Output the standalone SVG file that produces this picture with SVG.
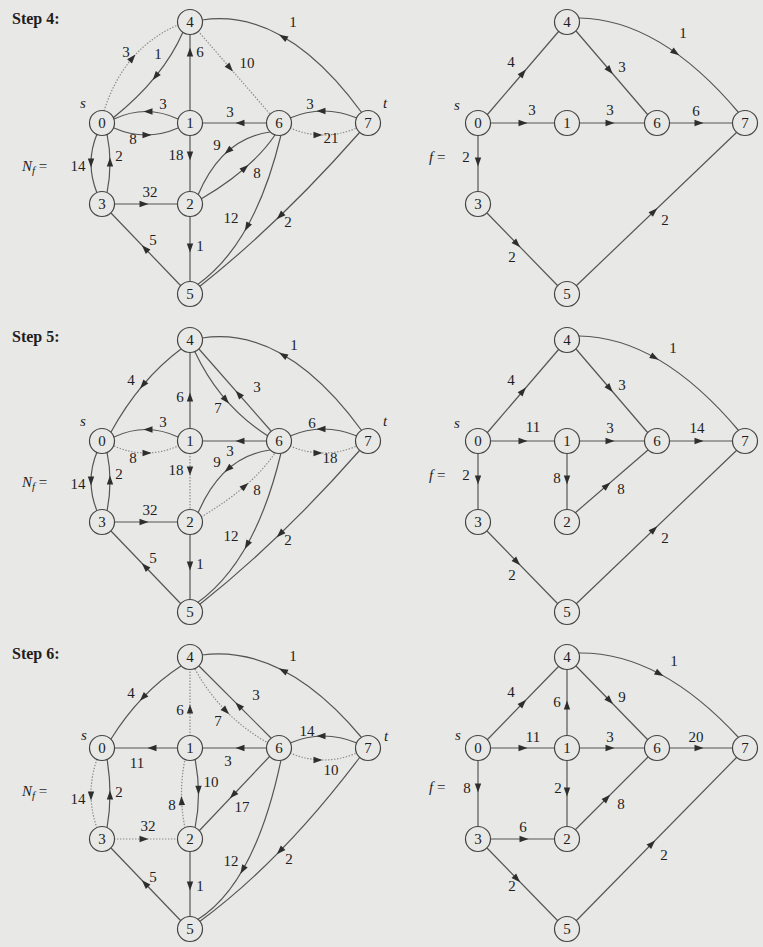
<svg xmlns="http://www.w3.org/2000/svg" xmlns:xlink="http://www.w3.org/1999/xlink" width="763" height="947" viewBox="0 0 763 947">
<style>
.e{fill:none;stroke:#555;stroke-width:1.2}
.d{fill:none;stroke:#8a8a8a;stroke-width:1.2;stroke-dasharray:1.4 1.6}
.n circle{fill:#e8e8e6;stroke:#444;stroke-width:1.2}
.n text{font-family:"Liberation Serif",serif;font-size:15px;fill:#1e1e1e;text-anchor:middle}
.l{font-family:"Liberation Serif",serif;font-size:15px;fill:#1e1e1e;text-anchor:middle}
.i{font-family:"Liberation Serif",serif;font-size:15px;fill:#1e1e1e;font-style:italic}
.h{font-family:"Liberation Serif",serif;font-size:16px;font-weight:bold;fill:#1e1e1e}
</style>
<defs>
<path id="a" d="M4.5,0 L-4.5,-3.2 L-4.5,3.2 Z" fill="#2e2e2e"/>
</defs>
<rect width="763" height="947" fill="#e8e8e6"/>

<!-- ================= STEP 4 ================= -->
<g id="step4">
<text class="h" x="12" y="24">Step 4:</text>
<text class="i" x="80" y="108">s</text>
<text class="i" x="383" y="108">t</text>
<text class="i" x="22" y="171">N<tspan font-size="11" dy="3">f</tspan><tspan font-style="normal" dy="-3"> =</tspan></text>
<text class="i" x="429" y="162">f<tspan font-style="normal"> =</tspan></text>
<text class="i" x="454" y="110">s</text>

<g id="s4L-edges">
<path class="d" d="M104,111 Q124,48 178,25"/><use xlink:href="#a" transform="translate(132.5,58) rotate(-49)"/><text class="l" x="126" y="57">3</text>
<path class="e" d="M183,32 Q163,78 113,118"/><use xlink:href="#a" transform="translate(155.5,76.5) rotate(129)"/><text class="l" x="158" y="59">1</text>
<path class="e" d="M190,111 V34"/><use xlink:href="#a" transform="translate(190,52) rotate(-90)"/><text class="l" x="200" y="57">6</text>
<path class="d" d="M198,31 L270,114"/><use xlink:href="#a" transform="translate(230,68) rotate(49)"/><text class="l" x="247" y="68">10</text>
<path class="e" d="M362,113 Q285,7.5 202,20"/><use xlink:href="#a" transform="translate(283,37) rotate(210)"/><text class="l" x="293" y="27">1</text>
<path class="e" d="M178,119 Q146,104 114,119"/><use xlink:href="#a" transform="translate(148,111.5) rotate(180)"/><text class="l" x="163" y="109">3</text>
<path class="e" d="M114,128 Q146,142 178,128"/><use xlink:href="#a" transform="translate(147,135)"/><text class="l" x="133" y="144">8</text>
<path class="e" d="M267,123 H202"/><use xlink:href="#a" transform="translate(240,123) rotate(180)"/><text class="l" x="230" y="117">3</text>
<path class="e" d="M357,118 Q323,104 290,118"/><use xlink:href="#a" transform="translate(321,111) rotate(180)"/><text class="l" x="310" y="109">3</text>
<path class="d" d="M290,128 Q323,142 357,128"/><use xlink:href="#a" transform="translate(318,135)"/><text class="l" x="331" y="143">21</text>
<path class="e" d="M190,135 V192"/><use xlink:href="#a" transform="translate(190,156) rotate(90)"/><text class="l" x="176" y="160">18</text>
<path class="e" d="M97,134 Q85,163 97,193"/><use xlink:href="#a" transform="translate(91,163) rotate(90)"/><text class="l" x="78" y="171">14</text>
<path class="e" d="M107,193 Q113,163 107,134"/><use xlink:href="#a" transform="translate(110,162) rotate(-90)"/><text class="l" x="119" y="161">2</text>
<path class="e" d="M114,204 H178"/><use xlink:href="#a" transform="translate(144,204)"/><text class="l" x="150" y="197">32</text>
<path class="e" d="M270,132 Q222,138.5 198,195"/><use xlink:href="#a" transform="translate(228,151) rotate(139)"/><text class="l" x="217" y="150">9</text>
<path class="e" d="M201,199 Q252,169 275,135"/><use xlink:href="#a" transform="translate(245,168) rotate(-41)"/><text class="l" x="257" y="178">8</text>
<path class="e" d="M281,135 Q255,244 197,285"/><use xlink:href="#a" transform="translate(247,227) rotate(119)"/><text class="l" x="231" y="223">12</text>
<path class="e" d="M360,132 Q280,223 199,287"/><use xlink:href="#a" transform="translate(280,216) rotate(136)"/><text class="l" x="288" y="227">2</text>
<path class="e" d="M190,216 V282"/><use xlink:href="#a" transform="translate(190,248) rotate(90)"/><text class="l" x="200" y="251">1</text>
<path class="e" d="M181,286 L111,213"/><use xlink:href="#a" transform="translate(145,248.5) rotate(-134)"/><text class="l" x="153" y="245">5</text>
</g>
<g id="s4L-n4" class="n"><circle cx="190" cy="22" r="12.5"/><text x="190" y="27">4</text></g>
<g id="s4L-n0" class="n"><circle cx="102" cy="123" r="12.5"/><text x="102" y="128">0</text></g>
<g id="s4L-n1" class="n"><circle cx="190" cy="123" r="12.5"/><text x="190" y="128">1</text></g>
<g id="s4L-n6" class="n"><circle cx="279" cy="123" r="12.5"/><text x="279" y="128">6</text></g>
<g id="s4L-n7" class="n"><circle cx="368" cy="123" r="12.5"/><text x="368" y="128">7</text></g>
<g id="s4L-n3" class="n"><circle cx="102" cy="204" r="12.5"/><text x="102" y="209">3</text></g>
<g id="s4L-n2" class="n"><circle cx="190" cy="204" r="12.5"/><text x="190" y="209">2</text></g>
<g id="s4L-n5" class="n"><circle cx="190" cy="294" r="12.5"/><text x="190" y="299">5</text></g>

<g id="s4R-edges">
<path class="e" d="M487,115 L559,31"/><use xlink:href="#a" transform="translate(523,73) rotate(-49.4)"/><text class="l" x="511" y="67">4</text>
<path class="e" d="M576,31 L648,115"/><use xlink:href="#a" transform="translate(609.8,70.5) rotate(49.4)"/><text class="l" x="622" y="72">3</text>
<path class="e" d="M579,18 Q660,19 739,113"/><use xlink:href="#a" transform="translate(675.5,52.7) rotate(35)"/><text class="l" x="683" y="38">1</text>
<path class="e" d="M490,123 H555"/><use xlink:href="#a" transform="translate(523,123)"/><text class="l" x="532" y="115">3</text>
<path class="e" d="M579,123 H645"/><use xlink:href="#a" transform="translate(610,123)"/><text class="l" x="610" y="115">3</text>
<path class="e" d="M669,123 H733"/><use xlink:href="#a" transform="translate(699,123)"/><text class="l" x="696" y="116">6</text>
<path class="e" d="M478,135 V192"/><use xlink:href="#a" transform="translate(478,162) rotate(90)"/><text class="l" x="466" y="162">2</text>
<path class="e" d="M487,213 L558,286"/><use xlink:href="#a" transform="translate(517,244) rotate(45.8)"/><text class="l" x="512" y="262">2</text>
<path class="e" d="M576,286 L737,132"/><use xlink:href="#a" transform="translate(654,211.4) rotate(-43.7)"/><text class="l" x="665" y="225">2</text>
</g>
<g id="s4R-n4" class="n"><circle cx="567" cy="22" r="12.5"/><text x="567" y="27">4</text></g>
<g id="s4R-n0" class="n"><circle cx="478" cy="123" r="12.5"/><text x="478" y="128">0</text></g>
<g id="s4R-n1" class="n"><circle cx="567" cy="123" r="12.5"/><text x="567" y="128">1</text></g>
<g id="s4R-n6" class="n"><circle cx="657" cy="123" r="12.5"/><text x="657" y="128">6</text></g>
<g id="s4R-n7" class="n"><circle cx="745" cy="123" r="12.5"/><text x="745" y="128">7</text></g>
<g id="s4R-n3" class="n"><circle cx="478" cy="204" r="12.5"/><text x="478" y="209">3</text></g>
<g id="s4R-n5" class="n"><circle cx="567" cy="294" r="12.5"/><text x="567" y="299">5</text></g>
</g>

<!-- ================= STEP 5 ================= -->
<g id="step5" transform="translate(0,318)">
<text class="h" x="12" y="24">Step 5:</text>
<text class="i" x="80" y="108">s</text>
<text class="i" x="383" y="108">t</text>
<text class="i" x="22" y="169">N<tspan font-size="11" dy="3">f</tspan><tspan font-style="normal" dy="-3"> =</tspan></text>
<text class="i" x="429" y="162">f<tspan font-style="normal"> =</tspan></text>
<text class="i" x="454" y="110">s</text>

<g id="s5L-edges">
<path class="e" d="M181,31 Q140,61.5 111,114"/><use xlink:href="#a" transform="translate(143,67) rotate(130)"/><text class="l" x="131" y="67">4</text>
<path class="e" d="M190,111 V34"/><use xlink:href="#a" transform="translate(190,79) rotate(-90)"/><text class="l" x="180" y="84">6</text>
<path class="e" d="M195,34 Q220.5,88 268,118"/><use xlink:href="#a" transform="translate(226,82) rotate(49)"/><text class="l" x="218" y="95">7</text>
<path class="e" d="M271,113 L199,31"/><use xlink:href="#a" transform="translate(238.6,76.1) rotate(228.7)"/><text class="l" x="257" y="74">3</text>
<path class="e" d="M362,113 Q285,7.5 202,20"/><use xlink:href="#a" transform="translate(283,37) rotate(210)"/><text class="l" x="294" y="32">1</text>
<path class="e" d="M178,119 Q146,104 114,119"/><use xlink:href="#a" transform="translate(148,111.5) rotate(180)"/><text class="l" x="163" y="109">3</text>
<path class="d" d="M114,128 Q146,142 178,128"/><use xlink:href="#a" transform="translate(147,135)"/><text class="l" x="133" y="145">8</text>
<path class="e" d="M267,123 H202"/><use xlink:href="#a" transform="translate(240,123) rotate(180)"/><text class="l" x="230" y="138">3</text>
<path class="e" d="M357,118 Q323,104 290,118"/><use xlink:href="#a" transform="translate(321,111) rotate(180)"/><text class="l" x="312" y="110">6</text>
<path class="d" d="M290,128 Q323,142 357,128"/><use xlink:href="#a" transform="translate(318,135)"/><text class="l" x="330" y="145">18</text>
<path class="d" d="M190,135 V192"/><use xlink:href="#a" transform="translate(190,153) rotate(90)"/><text class="l" x="176" y="157">18</text>
<path class="e" d="M270,132 Q222,138.5 198,195"/><use xlink:href="#a" transform="translate(228,151) rotate(139)"/><text class="l" x="217" y="149">9</text>
<path class="d" d="M201,199 Q252,169 275,135"/><use xlink:href="#a" transform="translate(245,168) rotate(-41)"/><text class="l" x="257" y="177">8</text>
<path class="e" d="M97,134 Q85,163 97,193"/><use xlink:href="#a" transform="translate(91,163) rotate(90)"/><text class="l" x="78" y="171">14</text>
<path class="e" d="M107,193 Q113,163 107,134"/><use xlink:href="#a" transform="translate(110,162) rotate(-90)"/><text class="l" x="119" y="161">2</text>
<path class="e" d="M114,204 H178"/><use xlink:href="#a" transform="translate(144,204)"/><text class="l" x="150" y="197">32</text>
<path class="e" d="M281,135 Q255,244 197,285"/><use xlink:href="#a" transform="translate(247,227) rotate(119)"/><text class="l" x="231" y="223">12</text>
<path class="e" d="M360,132 Q280,223 199,287"/><use xlink:href="#a" transform="translate(280,216) rotate(136)"/><text class="l" x="288" y="227">2</text>
<path class="e" d="M190,216 V282"/><use xlink:href="#a" transform="translate(190,248) rotate(90)"/><text class="l" x="200" y="251">1</text>
<path class="e" d="M181,286 L111,213"/><use xlink:href="#a" transform="translate(145,248.5) rotate(-134)"/><text class="l" x="153" y="245">5</text>
</g>
<g id="s5L-n4" class="n"><circle cx="190" cy="22" r="12.5"/><text x="190" y="27">4</text></g>
<g id="s5L-n0" class="n"><circle cx="102" cy="123" r="12.5"/><text x="102" y="128">0</text></g>
<g id="s5L-n1" class="n"><circle cx="190" cy="123" r="12.5"/><text x="190" y="128">1</text></g>
<g id="s5L-n6" class="n"><circle cx="279" cy="123" r="12.5"/><text x="279" y="128">6</text></g>
<g id="s5L-n7" class="n"><circle cx="368" cy="123" r="12.5"/><text x="368" y="128">7</text></g>
<g id="s5L-n3" class="n"><circle cx="102" cy="204" r="12.5"/><text x="102" y="209">3</text></g>
<g id="s5L-n2" class="n"><circle cx="190" cy="204" r="12.5"/><text x="190" y="209">2</text></g>
<g id="s5L-n5" class="n"><circle cx="190" cy="294" r="12.5"/><text x="190" y="299">5</text></g>

<g id="s5R-edges">
<path class="e" d="M487,115 L559,31"/><use xlink:href="#a" transform="translate(523,73) rotate(-49.4)"/><text class="l" x="511" y="67">4</text>
<path class="e" d="M576,31 L648,115"/><use xlink:href="#a" transform="translate(609.8,70.5) rotate(49.4)"/><text class="l" x="622" y="72">3</text>
<path class="e" d="M579,18 Q660,19 739,113"/><use xlink:href="#a" transform="translate(654.7,39.5) rotate(29)"/><text class="l" x="673" y="35">1</text>
<path class="e" d="M490,123 H555"/><use xlink:href="#a" transform="translate(523,123)"/><text class="l" x="533" y="114">11</text>
<path class="e" d="M579,123 H645"/><use xlink:href="#a" transform="translate(610,123)"/><text class="l" x="610" y="115">3</text>
<path class="e" d="M669,123 H733"/><use xlink:href="#a" transform="translate(699,123)"/><text class="l" x="697" y="115">14</text>
<path class="e" d="M478,135 V192"/><use xlink:href="#a" transform="translate(478,162) rotate(90)"/><text class="l" x="466" y="162">2</text>
<path class="e" d="M567,135 V192"/><use xlink:href="#a" transform="translate(567,162) rotate(90)"/><text class="l" x="557" y="165">8</text>
<path class="e" d="M575,195 L648,132"/><use xlink:href="#a" transform="translate(607,167.4) rotate(-40.8)"/><text class="l" x="621" y="176">8</text>
<path class="e" d="M487,213 L558,286"/><use xlink:href="#a" transform="translate(517,244) rotate(45.8)"/><text class="l" x="512" y="262">2</text>
<path class="e" d="M576,286 L737,132"/><use xlink:href="#a" transform="translate(654,211.4) rotate(-43.7)"/><text class="l" x="665" y="225">2</text>
</g>
<g id="s5R-n4" class="n"><circle cx="567" cy="22" r="12.5"/><text x="567" y="27">4</text></g>
<g id="s5R-n0" class="n"><circle cx="478" cy="123" r="12.5"/><text x="478" y="128">0</text></g>
<g id="s5R-n1" class="n"><circle cx="567" cy="123" r="12.5"/><text x="567" y="128">1</text></g>
<g id="s5R-n6" class="n"><circle cx="657" cy="123" r="12.5"/><text x="657" y="128">6</text></g>
<g id="s5R-n7" class="n"><circle cx="745" cy="123" r="12.5"/><text x="745" y="128">7</text></g>
<g id="s5R-n3" class="n"><circle cx="478" cy="204" r="12.5"/><text x="478" y="209">3</text></g>
<g id="s5R-n2" class="n"><circle cx="567" cy="204" r="12.5"/><text x="567" y="209">2</text></g>
<g id="s5R-n5" class="n"><circle cx="567" cy="294" r="12.5"/><text x="567" y="299">5</text></g>
</g>

<!-- ================= STEP 6 ================= -->
<g id="step6" transform="translate(0,635)">
<text class="h" x="12" y="24">Step 6:</text>
<text class="i" x="81" y="105">s</text>
<text class="i" x="384" y="106">t</text>
<text class="i" x="22" y="161">N<tspan font-size="11" dy="3">f</tspan><tspan font-style="normal" dy="-3"> =</tspan></text>
<text class="i" x="429" y="157">f<tspan font-style="normal"> =</tspan></text>
<text class="i" x="455" y="105">s</text>

<g id="s6L-edges">
<path class="e" d="M181,31 Q140,57.5 111,104"/><use xlink:href="#a" transform="translate(143,62.5) rotate(134)"/><text class="l" x="131" y="63">4</text>
<path class="d" d="M190,101 V34"/><use xlink:href="#a" transform="translate(190,74) rotate(-90)"/><text class="l" x="180" y="80">6</text>
<path class="d" d="M195,34 Q220.5,81 268,108"/><use xlink:href="#a" transform="translate(226,76) rotate(45.4)"/><text class="l" x="218" y="91">7</text>
<path class="e" d="M271,103 L199,31"/><use xlink:href="#a" transform="translate(238.6,70.6) rotate(225)"/><text class="l" x="256" y="65">3</text>
<path class="e" d="M362,103 Q284,9.5 202,20"/><use xlink:href="#a" transform="translate(283,35.5) rotate(207)"/><text class="l" x="293" y="26">1</text>
<path class="e" d="M178,113 H114"/><use xlink:href="#a" transform="translate(152,113) rotate(180)"/><text class="l" x="137" y="133">11</text>
<path class="e" d="M267,113 H202"/><use xlink:href="#a" transform="translate(240,113) rotate(180)"/><text class="l" x="228" y="131">3</text>
<path class="e" d="M357,108 Q323,94 290,108"/><use xlink:href="#a" transform="translate(321,101) rotate(180)"/><text class="l" x="307" y="101">14</text>
<path class="d" d="M290,118 Q323,132 357,118"/><use xlink:href="#a" transform="translate(318,125)"/><text class="l" x="331" y="140">10</text>
<path class="e" d="M195,124 Q202,159 195,193"/><use xlink:href="#a" transform="translate(198.5,155.3) rotate(90)"/><text class="l" x="211" y="152">10</text>
<path class="d" d="M185,193 Q178,159 185,124"/><use xlink:href="#a" transform="translate(181.6,165.6) rotate(-93)"/><text class="l" x="172" y="175">8</text>
<path class="d" d="M97,124 Q85,159 97,193"/><use xlink:href="#a" transform="translate(91,161) rotate(90)"/><text class="l" x="78" y="169">14</text>
<path class="e" d="M107,193 Q113,159 107,124"/><use xlink:href="#a" transform="translate(110,160) rotate(-90)"/><text class="l" x="119" y="162">2</text>
<path class="d" d="M114,204 H178"/><use xlink:href="#a" transform="translate(144,204)"/><text class="l" x="148" y="196">32</text>
<path class="e" d="M270,121 L199,196"/><use xlink:href="#a" transform="translate(233,160.1) rotate(133.4)"/><text class="l" x="242" y="177">17</text>
<path class="e" d="M281,125 Q255,249 197,285"/><use xlink:href="#a" transform="translate(242.7,234.8) rotate(120)"/><text class="l" x="231" y="231">12</text>
<path class="e" d="M360,122 Q280.5,227.5 199,287"/><use xlink:href="#a" transform="translate(280,216) rotate(134)"/><text class="l" x="289" y="229">2</text>
<path class="e" d="M190,216 V282"/><use xlink:href="#a" transform="translate(190,251) rotate(90)"/><text class="l" x="200" y="256">1</text>
<path class="e" d="M181,286 L111,213"/><use xlink:href="#a" transform="translate(145,248.5) rotate(-134)"/><text class="l" x="153" y="247">5</text>
</g>
<g id="s6L-n4" class="n"><circle cx="190" cy="22" r="12.5"/><text x="190" y="27">4</text></g>
<g id="s6L-n0" class="n"><circle cx="102" cy="113" r="12.5"/><text x="102" y="118">0</text></g>
<g id="s6L-n1" class="n"><circle cx="190" cy="113" r="12.5"/><text x="190" y="118">1</text></g>
<g id="s6L-n6" class="n"><circle cx="279" cy="113" r="12.5"/><text x="279" y="118">6</text></g>
<g id="s6L-n7" class="n"><circle cx="368" cy="113" r="12.5"/><text x="368" y="118">7</text></g>
<g id="s6L-n3" class="n"><circle cx="102" cy="204" r="12.5"/><text x="102" y="209">3</text></g>
<g id="s6L-n2" class="n"><circle cx="190" cy="204" r="12.5"/><text x="190" y="209">2</text></g>
<g id="s6L-n5" class="n"><circle cx="190" cy="294" r="12.5"/><text x="190" y="299">5</text></g>

<g id="s6R-edges">
<path class="e" d="M487,105 L559,31"/><use xlink:href="#a" transform="translate(523,68) rotate(-45.8)"/><text class="l" x="511" y="62">4</text>
<path class="e" d="M567,101 V34"/><use xlink:href="#a" transform="translate(567,70) rotate(-90)"/><text class="l" x="557" y="72">6</text>
<path class="e" d="M576,31 L648,105"/><use xlink:href="#a" transform="translate(609.8,65.8) rotate(45.8)"/><text class="l" x="622" y="67">9</text>
<path class="e" d="M579,18 Q660,17 739,103"/><use xlink:href="#a" transform="translate(659.5,38.8) rotate(28)"/><text class="l" x="674" y="31">1</text>
<path class="e" d="M490,113 H555"/><use xlink:href="#a" transform="translate(523,113)"/><text class="l" x="533" y="107">11</text>
<path class="e" d="M579,113 H645"/><use xlink:href="#a" transform="translate(610,113)"/><text class="l" x="610" y="107">3</text>
<path class="e" d="M669,113 H733"/><use xlink:href="#a" transform="translate(699,113)"/><text class="l" x="696" y="107">20</text>
<path class="e" d="M478,125 V192"/><use xlink:href="#a" transform="translate(478,153) rotate(90)"/><text class="l" x="467" y="158">8</text>
<path class="e" d="M567,125 V192"/><use xlink:href="#a" transform="translate(567,157) rotate(90)"/><text class="l" x="558" y="158">2</text>
<path class="e" d="M575,195 L648,122"/><use xlink:href="#a" transform="translate(607,163) rotate(-45)"/><text class="l" x="621" y="174">8</text>
<path class="e" d="M490,204 H555"/><use xlink:href="#a" transform="translate(524,204)"/><text class="l" x="523" y="197">6</text>
<path class="e" d="M487,213 L558,286"/><use xlink:href="#a" transform="translate(517,244) rotate(45.8)"/><text class="l" x="512" y="256">2</text>
<path class="e" d="M576,286 L737,122"/><use xlink:href="#a" transform="translate(652,208.6) rotate(-45.5)"/><text class="l" x="664" y="225">2</text>
</g>
<g id="s6R-n4" class="n"><circle cx="567" cy="22" r="12.5"/><text x="567" y="27">4</text></g>
<g id="s6R-n0" class="n"><circle cx="478" cy="113" r="12.5"/><text x="478" y="118">0</text></g>
<g id="s6R-n1" class="n"><circle cx="567" cy="113" r="12.5"/><text x="567" y="118">1</text></g>
<g id="s6R-n6" class="n"><circle cx="657" cy="113" r="12.5"/><text x="657" y="118">6</text></g>
<g id="s6R-n7" class="n"><circle cx="745" cy="113" r="12.5"/><text x="745" y="118">7</text></g>
<g id="s6R-n3" class="n"><circle cx="478" cy="204" r="12.5"/><text x="478" y="209">3</text></g>
<g id="s6R-n2" class="n"><circle cx="567" cy="204" r="12.5"/><text x="567" y="209">2</text></g>
<g id="s6R-n5" class="n"><circle cx="567" cy="294" r="12.5"/><text x="567" y="299">5</text></g>
</g>
</svg>
